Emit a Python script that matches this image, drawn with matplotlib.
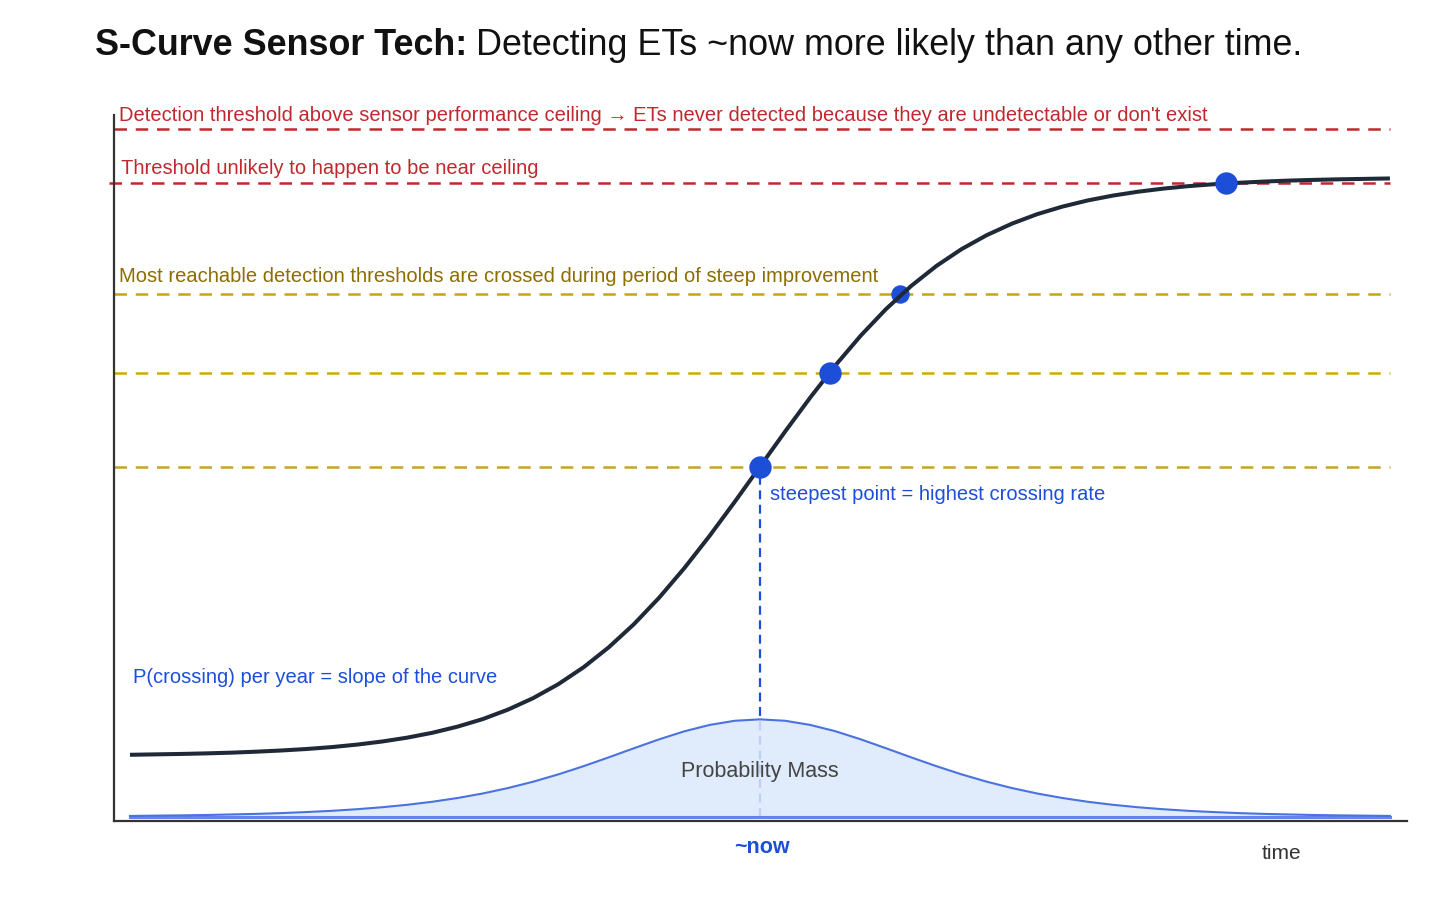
import numpy as np
import matplotlib
matplotlib.use("Agg")
import matplotlib.pyplot as plt

plt.rcParams['font.family'] = ['Liberation Sans', 'DejaVu Sans']

# time axis (arbitrary units)
t = [0.0, 0.2, 0.4, 0.6, 0.8, 1.0, 1.2, 1.4, 1.6, 1.8,
     2.0, 2.2, 2.4, 2.6, 2.8, 3.0, 3.2, 3.4, 3.6, 3.8,
     4.0, 4.2, 4.4, 4.6, 4.8, 5.0, 5.2, 5.4, 5.6, 5.8,
     6.0, 6.2, 6.4, 6.6, 6.8, 7.0, 7.2, 7.4, 7.6, 7.8,
     8.0, 8.2, 8.4, 8.6, 8.8, 9.0, 9.2, 9.4, 9.6, 9.8, 10.0]
# sensor performance (S-curve)
perf = [0.0938, 0.0944, 0.0950, 0.0958, 0.0968, 0.0982, 0.0999, 0.1020, 0.1047, 0.1082,
        0.1126, 0.1181, 0.1250, 0.1337, 0.1444, 0.1578, 0.1741, 0.1939, 0.2178, 0.2461,
        0.2789, 0.3164, 0.3583, 0.4039, 0.4522, 0.5020, 0.5518, 0.6001, 0.6457, 0.6876,
        0.7251, 0.7579, 0.7862, 0.8101, 0.8299, 0.8462, 0.8596, 0.8703, 0.8790, 0.8859,
        0.8914, 0.8958, 0.8993, 0.9020, 0.9041, 0.9058, 0.9072, 0.9082, 0.9090, 0.9096, 0.9102]
# probability mass of crossing (slope of the curve)
pmass = [0.0072, 0.0076, 0.0080, 0.0085, 0.0093, 0.0101, 0.0112, 0.0127, 0.0144, 0.0167,
         0.0195, 0.0230, 0.0273, 0.0326, 0.0390, 0.0467, 0.0557, 0.0661, 0.0777, 0.0902,
         0.1031, 0.1157, 0.1271, 0.1361, 0.1420, 0.1440, 0.1420, 0.1361, 0.1271, 0.1157,
         0.1031, 0.0902, 0.0777, 0.0661, 0.0557, 0.0467, 0.0390, 0.0326, 0.0273, 0.0230,
         0.0195, 0.0167, 0.0144, 0.0127, 0.0112, 0.0101, 0.0093, 0.0085, 0.0080, 0.0076, 0.0072]
base_level = 0.006

# thresholds
ceiling_levels = [0.980, 0.904]
reach_levels = [0.746, 0.635, 0.501]
reach_colors = ['#c8a415', '#d1aa00', '#c6a22a']

# crossing points
cross_t = [5.0, 5.556, 8.698]
cross_y = [0.501, 0.635, 0.904]
hidden_t = 6.111
hidden_y = 0.746
now_t = 5.0

fig = plt.figure(figsize=(14.56, 9.06), dpi=100)
ax = fig.add_axes([0.0783, 0.0938, 0.888, 0.7792])
ax.set_xlim(-0.127, 10.135)
ax.set_ylim(0, 1)

red = '#c0282d'
blue = '#1d4ed8'

# threshold lines
ax.plot([-0.127, 10], [ceiling_levels[0]] * 2, color=red, lw=1.8, dashes=(5, 3.5), zorder=2)
ax.plot([-0.17, 10], [ceiling_levels[1]] * 2, color=red, lw=1.8, dashes=(5, 3.5), zorder=2, clip_on=False)
for lv, c in zip(reach_levels, reach_colors):
    ax.plot([-0.127, 10], [lv, lv], color=c, lw=1.8, dashes=(5, 3.5), zorder=2)

# vertical "now" marker
ax.plot([now_t, now_t], [base_level, reach_levels[2]], color=blue, lw=1.6, dashes=(4, 2.5), zorder=1)

# probability mass
ax.fill_between(t, base_level, pmass, color='#dbe8fb', alpha=0.85, lw=0, zorder=3)
ax.plot(t, pmass, color='#4a72e0', lw=1.5, zorder=4)
ax.plot([t[0], t[-1]], [base_level, base_level], color='#4a72e0', lw=2.2, alpha=0.85, zorder=4)

# S-curve
ax.scatter([hidden_t], [hidden_y], s=150, color=blue, zorder=5)
ax.plot(t, perf, color='#1f2937', lw=2.9, zorder=6, solid_capstyle='butt')
ax.scatter(cross_t, cross_y, s=260, color=blue, zorder=7, linewidths=0)

# spines
for s in ['top', 'right']:
    ax.spines[s].set_visible(False)
for s in ['left', 'bottom']:
    ax.spines[s].set_color('#333333')
    ax.spines[s].set_linewidth(1.6)
ax.set_xticks([])
ax.set_yticks([])

fs = 14.5
ax.text(-0.087, 1.0, "Detection threshold above sensor performance ceiling \u2192 ETs never detected because they are undetectable or don't exist",
        color=red, fontsize=fs, va='center', ha='left', clip_on=False)
ax.text(-0.071, 0.924, "Threshold unlikely to happen to be near ceiling",
        color=red, fontsize=fs, va='center', ha='left')
ax.text(-0.087, 0.771, "Most reachable detection thresholds are crossed during period of steep improvement",
        color='#8c6d00', fontsize=fs, va='center', ha='left')
ax.text(5.079, 0.4626, "steepest point = highest crossing rate",
        color=blue, fontsize=fs, va='center', ha='left')
ax.text(0.024, 0.2034, "P(crossing) per year = slope of the curve",
        color=blue, fontsize=fs, va='center', ha='left')
ax.text(5.0, 0.0702, "Probability Mass", color='#444444', fontsize=15.5, va='center', ha='center', zorder=8)
ax.text(5.016, -0.0374, "~now", color=blue, fontsize=15.5, fontweight='bold', va='center', ha='center', clip_on=False)
ax.text(9.135, -0.0459, "time", color='#333333', fontsize=15, va='center', ha='center', clip_on=False)

# title: bold lead-in + regular text
t1 = fig.text(0.0652, 0.9494, "S-Curve Sensor Tech:", fontsize=25.8, fontweight='bold', va='center', ha='left', color='#111111')
fig.canvas.draw()
bb = t1.get_window_extent()
x2 = (bb.x1 + 9) / fig.bbox.width
fig.text(x2, 0.9494, "Detecting ETs ~now more likely than any other time.", fontsize=25.8, va='center', ha='left', color='#111111')

fig.savefig('out.png', dpi=100)
